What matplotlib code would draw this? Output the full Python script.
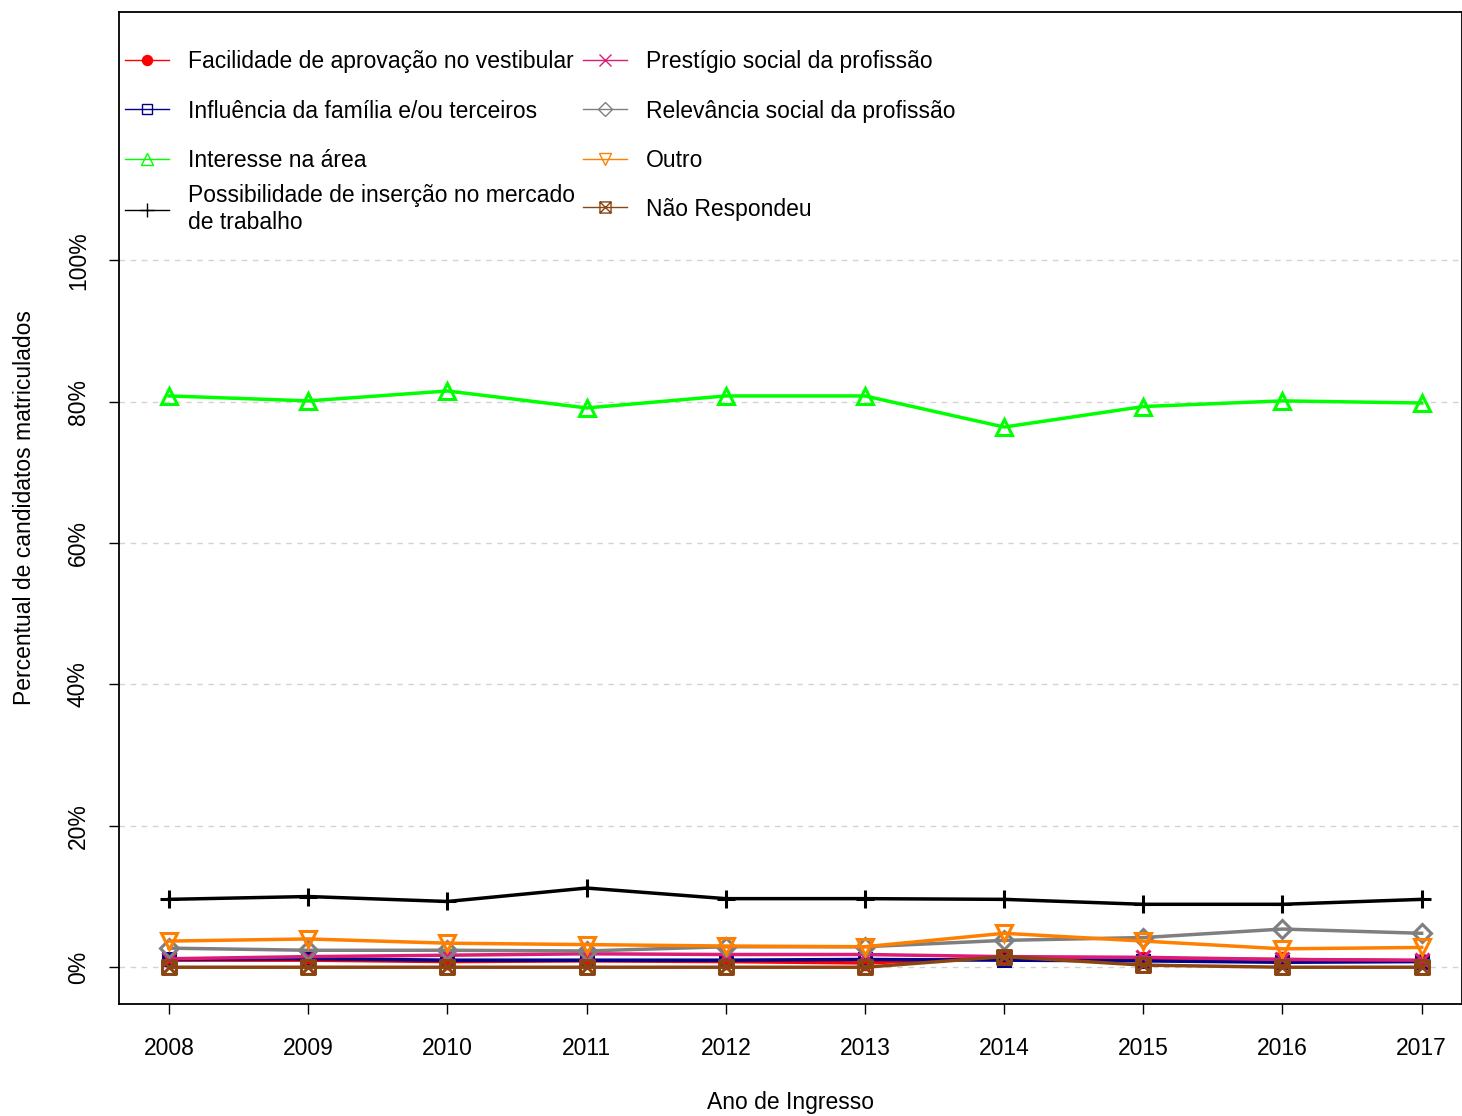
import matplotlib
matplotlib.use("Agg")
import matplotlib.pyplot as plt
from matplotlib.lines import Line2D
from matplotlib.path import Path
import numpy as np

plt.rcParams['font.family'] = ['Liberation Sans', 'DejaVu Sans']

# Data (percent of enrolled candidates per entry year)
anos = [2008, 2009, 2010, 2011, 2012, 2013, 2014, 2015, 2016, 2017]
facilidade = [1.0, 1.0, 0.8, 0.9, 0.8, 0.6, 1.4, 1.2, 1.1, 0.9]
influencia = [1.1, 1.2, 1.0, 1.0, 1.0, 1.1, 1.0, 0.9, 0.7, 0.8]
interesse = [80.8, 80.1, 81.5, 79.1, 80.8, 80.8, 76.4, 79.3, 80.1, 79.8]
possibilidade = [9.6, 10.0, 9.3, 11.2, 9.7, 9.7, 9.6, 8.9, 8.9, 9.6]
prestigio = [1.2, 1.5, 1.7, 1.9, 1.8, 1.8, 1.5, 1.4, 1.1, 1.0]
relevancia = [2.7, 2.4, 2.4, 2.3, 2.9, 2.9, 3.8, 4.2, 5.4, 4.8]
outro = [3.7, 4.0, 3.4, 3.2, 3.0, 2.9, 4.8, 3.7, 2.6, 2.8]
nao_respondeu = [0.0, 0.0, 0.0, 0.0, 0.0, 0.0, 1.5, 0.3, 0.0, 0.0]

labels = ["Facilidade de aprovação no vestibular",
          "Influência da família e/ou terceiros",
          "Interesse na área",
          "Possibilidade de inserção no mercado\nde trabalho",
          "Prestígio social da profissão",
          "Relevância social da profissão",
          "Outro",
          "Não Respondeu"]

# square with an x inside (R pch 7)
sq_x = Path([(-1, -1), (1, -1), (1, 1), (-1, 1), (-1, -1), (-1, -1), (1, 1), (-1, 1), (1, -1)],
            [Path.MOVETO, Path.LINETO, Path.LINETO, Path.LINETO, Path.CLOSEPOLY,
             Path.MOVETO, Path.LINETO, Path.MOVETO, Path.LINETO])

series = [facilidade, influencia, interesse, possibilidade,
          prestigio, relevancia, outro, nao_respondeu]
colors = ["#FF0000", "#00008B", "#00FF00", "#000000",
          "#DD1C77", "#7F7F7F", "#FF7F00", "#8B4513"]
markers = ["o", "s", "^", "+", "x", "D", "v", sq_x]
msizes = [9, 9, 11, 13, 10, 9, 11, 10]
filled = [True, False, False, False, False, False, False, False]

fs = 16.5

fig = plt.figure(figsize=(14.62, 11.16), dpi=100)
ax = fig.add_axes([119 / 1462, 1 - 1004 / 1116, 1 - 119 / 1462, 992 / 1116])

for v in [0, 20, 40, 60, 80, 100]:
    ax.axhline(v, color="#D3D3D3", lw=1, ls=(0, (4, 4)), zorder=0)

for s, c, m, ms, f in zip(series, colors, markers, msizes, filled):
    ax.plot(anos, s, color=c, lw=2.5, marker=m, markersize=ms, markeredgewidth=2.2,
            markerfacecolor=c if f else "none", markeredgecolor=c)

ax.set_xlim(2007.64, 2017.29)
ax.set_ylim(-5.2, 135.1)
ax.set_xticks(anos)
ax.set_xticklabels([str(a) for a in anos], fontsize=fs)
ax.set_yticks([0, 20, 40, 60, 80, 100])
ax.set_yticklabels(["0%", "20%", "40%", "60%", "80%", "100%"], fontsize=fs,
                   rotation=90, va="center")
ax.tick_params(axis="x", length=7, width=1, pad=17)
ax.tick_params(axis="y", length=7, width=1, pad=14)
ax.set_xlabel("Ano de Ingresso", fontsize=fs, labelpad=22)
ax.set_ylabel("Percentual de candidatos matriculados", fontsize=fs, labelpad=22)
for sp in ax.spines.values():
    sp.set_linewidth(1.3)

handles = [Line2D([], [], color=c, lw=1, marker=m, markersize=ms * 0.8,
                  markeredgewidth=1, markerfacecolor=c if f else "none",
                  markeredgecolor=c)
           for c, m, ms, f in zip(colors, markers, msizes, filled)]

leg_kw = dict(frameon=False, fontsize=fs, handlelength=1.9, handletextpad=0.85,
              labelspacing=1.17, borderpad=0, borderaxespad=0)
x_col1, x_col2 = 0.0045, 0.3455
y_top, y_row4 = 0.962, 0.8014

# first three rows of each column
leg = ax.legend(handles[:3], labels[:3], loc="upper left",
                bbox_to_anchor=(x_col1, y_top), **leg_kw)
ax.add_artist(leg)
leg = ax.legend(handles[4:7], labels[4:7], loc="upper left",
                bbox_to_anchor=(x_col2, y_top), **leg_kw)
ax.add_artist(leg)
# last row: two-line entry and its neighbour share a centre line
leg = ax.legend(handles[3:4], labels[3:4], loc="center left",
                bbox_to_anchor=(x_col1, y_row4), **leg_kw)
ax.add_artist(leg)
ax.legend(handles[7:], labels[7:], loc="center left",
          bbox_to_anchor=(x_col2, y_row4), **leg_kw)

fig.savefig("out.png", dpi=100)
